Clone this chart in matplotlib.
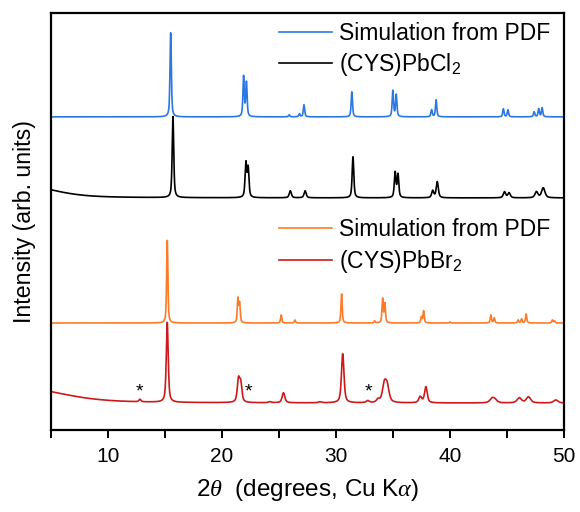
import numpy as np
from matplotlib import pyplot as plt
from matplotlib.lines import Line2D
from matplotlib.ticker import MultipleLocator

plt.rcParams['font.family'] = ['Liberation Sans', 'DejaVu Sans']
plt.rcParams['mathtext.fontset'] = 'custom'
plt.rcParams['mathtext.rm'] = 'Liberation Sans'
plt.rcParams['mathtext.it'] = 'Liberation Serif:italic'

# peak lists: position (2theta), height (arb.), fwhm
sim_cl_pos = [15.5, 21.9, 22.15, 25.9, 26.8, 27.2, 31.4, 35.0, 35.3, 38.4, 38.8,
              44.7, 45.1, 47.4, 47.8, 48.1]
sim_cl_h = [84, 40, 34, 2, 3, 12, 25, 26, 22, 7, 17, 8, 7, 5, 8, 9]
sim_cl_w = [0.14] * len(sim_cl_pos)

exp_cl_pos = [3.0, 15.7, 22.1, 22.3, 26.0, 27.3, 31.5, 35.2, 35.45, 38.5, 38.9,
              44.8, 45.2, 47.6, 48.2]
exp_cl_h = [11.5, 81, 34, 29, 7, 7, 41, 25, 23, 7, 16, 6, 5, 6, 10]
exp_cl_w = [6.0, 0.16, 0.17, 0.17, 0.22, 0.22, 0.17, 0.17, 0.17, 0.22, 0.22,
            0.25, 0.25, 0.3, 0.35]

sim_br_pos = [15.2, 21.4, 21.55, 25.2, 26.4, 30.5, 33.4, 34.1, 34.3, 37.5, 37.7,
              40.0, 43.6, 43.9, 46.0, 46.3, 46.7, 49.0, 49.2]
sim_br_h = [83, 24, 19, 8, 3, 29, 2, 24, 19, 6, 12, 1, 8, 5, 3, 4, 9, 3, 2]
sim_br_w = [0.13] * len(sim_br_pos)

exp_br_pos = [3.0, 12.8, 15.2, 21.45, 21.65, 24.2, 25.4, 28.6, 30.6, 32.8, 33.7,
              34.25, 34.5, 37.4, 37.9, 43.7, 43.95, 46.1, 46.9, 49.3]
exp_br_h = [14, 2.5, 80, 22, 18, 1, 10, 1, 49, 2, 3, 17, 15, 6, 16, 4, 3, 5, 6, 3]
exp_br_w = [8.0, 0.2, 0.2, 0.25, 0.25, 0.3, 0.28, 0.3, 0.26, 0.3, 0.3,
            0.4, 0.4, 0.3, 0.28, 0.45, 0.45, 0.45, 0.45, 0.45]

star_pos = [12.8, 22.3, 32.9]


def pattern(tt, pos, h, w, eta=0.6):
    y = np.zeros_like(tt)
    for p, a, fw in zip(pos, h, w):
        d = (tt - p) / (fw / 2)
        y += a * (eta / (1 + d ** 2) + (1 - eta) * np.exp(-np.log(2) * d ** 2))
    return y


tt = np.linspace(5, 50, 4000)
traces = [
    (sim_cl_pos, sim_cl_h, sim_cl_w, 313, '#2a78e4'),
    (exp_cl_pos, exp_cl_h, exp_cl_w, 232, 'black'),
    (sim_br_pos, sim_br_h, sim_br_w, 107, '#ff7a26'),
    (exp_br_pos, exp_br_h, exp_br_w, 27, '#cc1a1a'),
]

fig = plt.figure(figsize=(5.8, 5.12), dpi=100)
ax = fig.add_axes([0.088, 0.16, 0.884, 0.815])
for pos, h, w, off, col in traces:
    ax.plot(tt, pattern(tt, pos, h, w) + off, color=col, lw=1.2)

for s in star_pos:
    ax.text(s, 38, '*', ha='center', va='center', fontsize=14)

ax.set_xlim(5, 50)
ax.set_ylim(0, 417)
ax.set_yticks([])
ax.xaxis.set_major_locator(MultipleLocator(10))
ax.xaxis.set_minor_locator(MultipleLocator(5))
ax.tick_params(axis='x', which='both', direction='out', length=6, width=1.4,
               labelsize=15, pad=6)
for sp in ax.spines.values():
    sp.set_linewidth(1.6)
ax.set_xlabel(r'2$\theta$  (degrees, Cu K$\alpha$)', fontsize=17.5, labelpad=8)
ax.set_ylabel('Intensity (arb. units)', fontsize=16.7)
ax.yaxis.set_label_coords(-0.03, 0.5)

leg_kw = dict(loc='upper right', frameon=False, fontsize=16.5, handlelength=2.3,
              handletextpad=0.3, labelspacing=0.27, borderaxespad=0.2)
h1 = [Line2D([], [], color='#2a78e4', lw=1.2), Line2D([], [], color='black', lw=1.2)]
leg1 = ax.legend(h1, ['Simulation from PDF', '(CYS)PbCl$_2$'],
                 bbox_to_anchor=(1.0, 1.012), **leg_kw)
ax.add_artist(leg1)
h2 = [Line2D([], [], color='#ff7a26', lw=1.2), Line2D([], [], color='#cc1a1a', lw=1.2)]
ax.legend(h2, ['Simulation from PDF', '(CYS)PbBr$_2$'],
          bbox_to_anchor=(1.0, 0.54), **leg_kw)

fig.savefig('out.png', dpi=100)
